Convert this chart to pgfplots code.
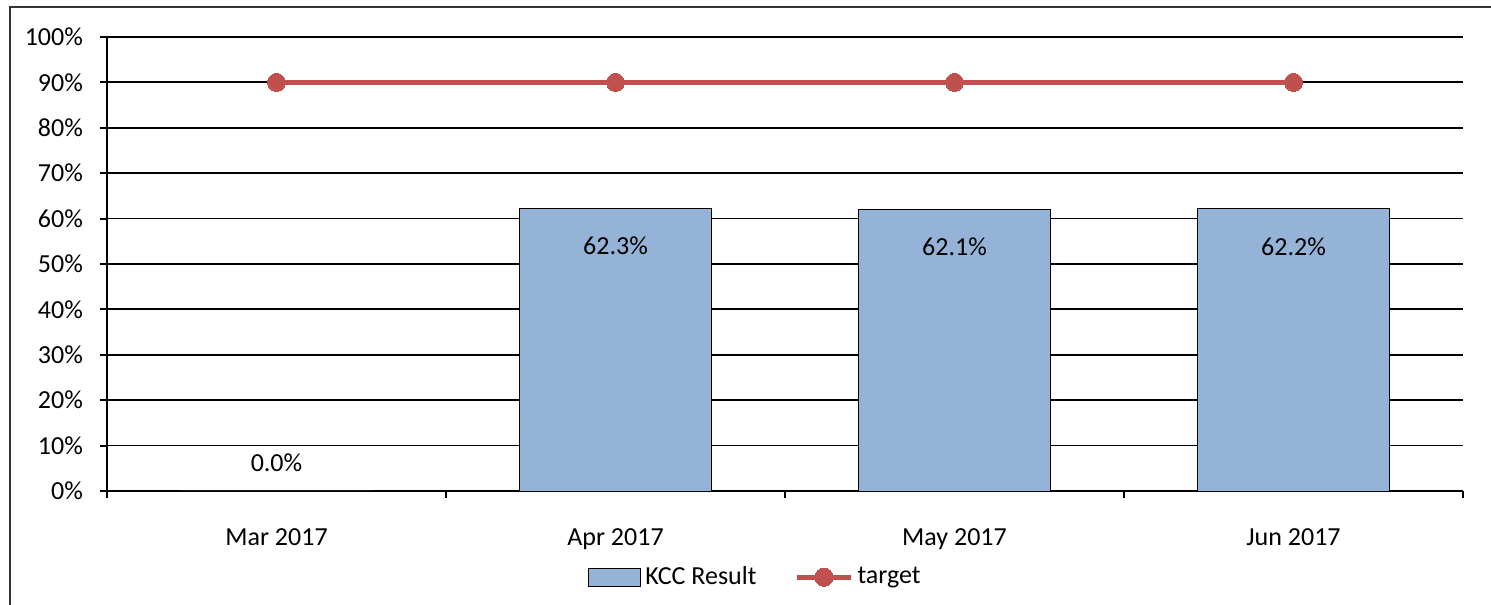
\documentclass[border=0pt]{standalone}
\usepackage{pgfplots}
\pgfplotsset{compat=1.18}
\usepackage{fontspec}
\setmainfont{Carlito}
\definecolor{barblue}{HTML}{95B3D7}
\definecolor{tred}{HTML}{C0504D}
\pgfplotsset{
  boxlegend/.style={legend image code/.code={\draw[##1] (0pt,-4.5pt) rectangle (26pt,4.5pt);}},
  linelegend/.style={legend image code/.code={\draw[##1, mark repeat=2, mark phase=2] plot coordinates {(0pt,0pt) (13.5pt,0pt) (27pt,0pt)};}},
}
\begin{document}
\fontsize{13}{15}\selectfont
\begin{tikzpicture}
\useasboundingbox (0,0) rectangle (745.5pt,302pt);
\draw[line width=0.8pt, black!80] (5pt,-2pt) -- (5pt,298.5pt) -- (750pt,298.5pt);
\begin{axis}[
  at={(53.5pt,56.5pt)}, anchor=south west,
  scale only axis, width=678pt, height=227pt,
  xmin=-0.5, xmax=3.5, ymin=0, ymax=100,
  axis x line*=bottom, axis y line*=left,
  axis line style={line width=1pt, black},
  xtick={0,1,2,3},
  xticklabels={Mar 2017, Apr 2017, May 2017, Jun 2017},
  minor xtick={-0.5,0.5,1.5,2.5,3.5},
  major x tick style={draw=none},
  minor tick length=3.5pt, major tick length=3.5pt,
  tick align=outside,
  tick style={line width=1pt, black},
  xticklabel style={yshift=-11pt},
  ytick={0,10,...,100},
  yticklabel={\pgfmathprintnumber{\tick}\%},
  /pgf/number format/assume math mode=true,
  yticklabel style={xshift=-4pt},
  ymajorgrids, grid style={line width=0.9pt, black},
  legend style={at={(0.479,-0.19)}, anchor=center, draw=none, fill=none,
    legend columns=2, font=\fontsize{13}{15}\selectfont,
    /tikz/every even column/.append style={column sep=17pt}},
  legend cell align=left,
  clip=false,
]
\addplot[ybar, bar width=96pt, fill=barblue, draw=black, line width=0.4pt, boxlegend,
  nodes near coords={\pgfmathprintnumber[fixed,fixed zerofill,precision=1]{\pgfplotspointmeta}\%},
  every node near coord/.append style={anchor=center, yshift=-19pt, font=\fontsize{13}{15}\selectfont}]
  coordinates {(1,62.3) (2,62.1) (3,62.2)};
\addlegendentry{KCC Result}
\addplot[ybar, bar width=96pt, fill=barblue, draw=none, forget plot,
  nodes near coords={\pgfmathprintnumber[fixed,fixed zerofill,precision=1]{\pgfplotspointmeta}\%},
  every node near coord/.append style={anchor=center, yshift=14pt, font=\fontsize{13}{15}\selectfont}]
  coordinates {(0,0)};
\addplot[tred, line width=2.5pt, mark=*, mark size=4.5pt, mark options={fill=tred, draw=tred, line width=0pt}, linelegend]
  coordinates {(0,90) (1,90) (2,90) (3,90)};
\addlegendentry{target}
\end{axis}
\end{tikzpicture}
\end{document}
